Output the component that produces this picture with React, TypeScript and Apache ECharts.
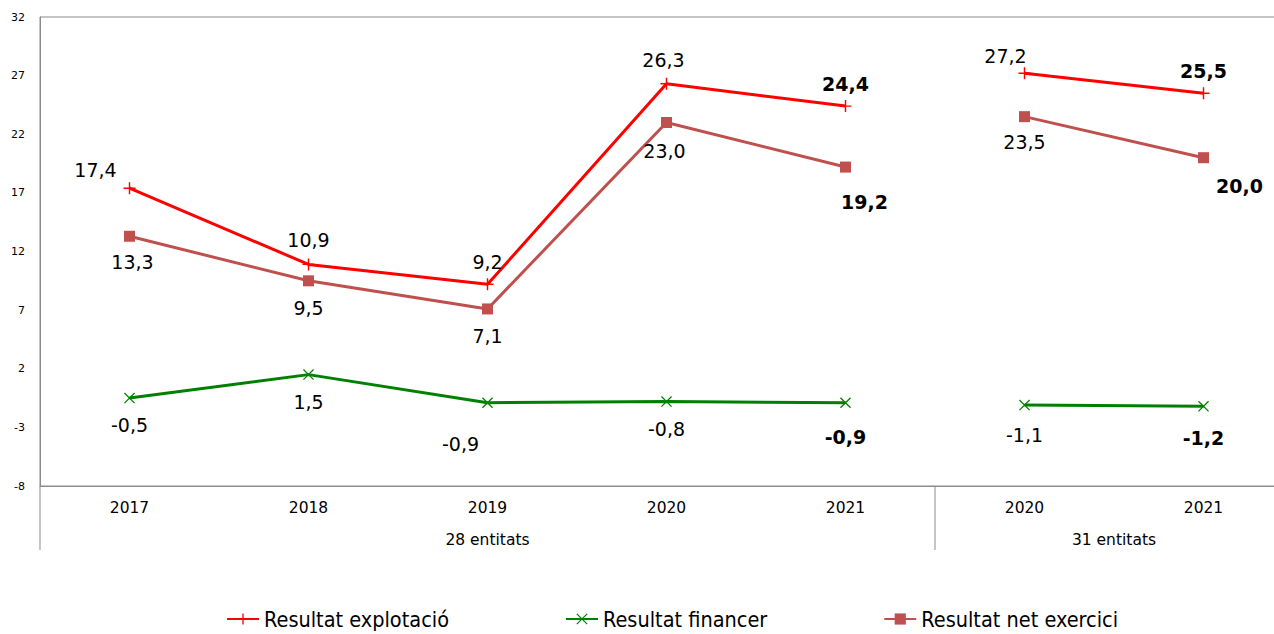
import React, { useEffect, useRef } from 'react';
import * as echarts from 'echarts';

const categories = ['2017', '2018', '2019', '2020', '2021', '2020', '2021'];
const groupLabels = ['28 entitats', '31 entitats'];
const groupSizes = [5, 2];
const explotacio = [17.4, 10.9, 9.2, 26.3, 24.4, 27.2, 25.5];
const financer = [-0.5, 1.5, -0.9, -0.8, -0.9, -1.1, -1.2];
const netExercici = [13.3, 9.5, 7.1, 23.0, 19.2, 23.5, 20.0];
const seriesNames = ['Resultat explotació', 'Resultat financer', 'Resultat net exercici'];
const yMin = -8;
const yMax = 32;
const yInterval = 5;
const boldIndices = [4, 6];

// label offsets (style, not data)
const offExpl = [[-34, -18], [0, -24], [0, -22], [-3, -24], [0, -22], [-19, -17], [0, -22]];
const offFin = [[0, 27], [0, 27], [-27, 41], [0, 27], [0, 34], [0, 30], [0, 32]];
const offNet = [[3, 26], [0, 27], [0, 27], [-2, 28], [19, 35], [0, 25], [36, 28]];

const FONT = 'DejaVu Sans, Verdana, sans-serif';
const plusPath = 'path://M0,4.4H10V5.6H0Z M4.4,0H5.6V10H4.4Z';
const crossPath = 'path://M0,0.8L0.8,0L10,9.2L9.2,10Z M9.2,0L10,0.8L0.8,10L0,9.2Z';

const fmt = (v: number) => v.toFixed(1).replace('.', ',');

function buildSeries(name: string, values: number[], offsets: number[][], color: string, symbol: string, symbolSize: number) {
  const out: any[] = [];
  let start = 0;
  groupSizes.forEach((size) => {
    const data = values.map((v, i) => {
      if (i < start || i >= start + size) return '-';
      return {
        value: v,
        label: {
          offset: offsets[i],
          fontWeight: boldIndices.includes(i) ? 'bold' : 'normal',
        },
      };
    });
    out.push({
      type: 'line',
      name,
      data,
      symbol,
      symbolSize,
      lineStyle: { color, width: 3 },
      itemStyle: { color },
      label: {
        show: true,
        position: 'inside',
        align: 'center',
        verticalAlign: 'middle',
        color: '#000',
        fontFamily: FONT,
        fontSize: 19,
        formatter: (p: any) => fmt(p.value),
      },
      emphasis: { disabled: true },
      z: 3,
    });
    start += size;
  });
  return out;
}

export default function App() {
  const ref = useRef<HTMLDivElement>(null);
  useEffect(() => {
    if (!ref.current) return;
    const chart = echarts.init(ref.current, undefined, { renderer: 'svg' });
    const option: any = {
      animation: false,
      backgroundColor: '#fff',
      grid: { left: 40, top: 17, width: 1253, height: 469, show: true, borderColor: '#8c8c8c', borderWidth: 1, containLabel: false },
      legend: {
        data: seriesNames,
        left: 226,
        top: 608,
        padding: 0,
        itemWidth: 32,
        itemHeight: 14,
        itemGap: 116,
        textStyle: { fontFamily: 'DejaVu Sans Condensed, DejaVu Sans, sans-serif', fontSize: 21.5, color: '#000' },
      },
      xAxis: {
        type: 'category',
        data: categories,
        boundaryGap: true,
        axisLine: { show: true, onZero: false, lineStyle: { color: '#8c8c8c', width: 1 } },
        axisTick: { show: false },
        axisLabel: { fontFamily: FONT, fontSize: 15.5, color: '#000', margin: 14, interval: 0 },
        splitLine: { show: false },
      },
      yAxis: {
        type: 'value',
        min: yMin,
        max: yMax,
        interval: yInterval,
        axisLine: { show: true, lineStyle: { color: '#8c8c8c', width: 1 } },
        axisTick: { show: false },
        axisLabel: { fontFamily: FONT, fontSize: 11, color: '#000', margin: 15 },
        splitLine: { show: false },
      },
      series: [
        ...buildSeries(seriesNames[0], explotacio, offExpl, '#ff0000', plusPath, 12),
        ...buildSeries(seriesNames[1], financer, offFin, '#008000', crossPath, 11),
        ...buildSeries(seriesNames[2], netExercici, offNet, '#c0504d', 'rect', 11),
      ],
    };
    chart.setOption(option);

    // group labels and separators under the category axis
    const xs = categories.map((_, i) => chart.convertToPixel({ xAxisIndex: 0 }, i) as number);
    const band = xs[1] - xs[0];
    const yBottom = chart.convertToPixel({ yAxisIndex: 0 }, yMin) as number;
    const graphics: any[] = [];
    let start = 0;
    const leftEdge = xs[0] - band / 2;
    graphics.push({ type: 'line', shape: { x1: leftEdge, y1: yBottom, x2: leftEdge, y2: yBottom + 64 }, style: { stroke: '#8c8c8c', lineWidth: 1 }, silent: true });
    groupSizes.forEach((size, g) => {
      const first = xs[start];
      const last = xs[start + size - 1];
      const cx = (first + last) / 2;
      graphics.push({
        type: 'text',
        x: cx,
        y: yBottom + 54,
        style: { text: groupLabels[g], fontFamily: FONT, fontSize: 15.5, fill: '#000', align: 'center', verticalAlign: 'middle' },
        silent: true,
      });
      const edge = last + band / 2;
      if (g < groupSizes.length - 1) {
        graphics.push({ type: 'line', shape: { x1: edge, y1: yBottom, x2: edge, y2: yBottom + 64 }, style: { stroke: '#8c8c8c', lineWidth: 1 }, silent: true });
      }
      start += size;
    });
    chart.setOption({ graphic: graphics });

    return () => chart.dispose();
  }, []);
  return (
    <div style={{ position: 'fixed', left: 0, top: 0, width: 1274, height: 634, overflow: 'hidden', background: '#fff' }}>
      <div ref={ref} style={{ width: 1300, height: 634 }} />
    </div>
  );
}
